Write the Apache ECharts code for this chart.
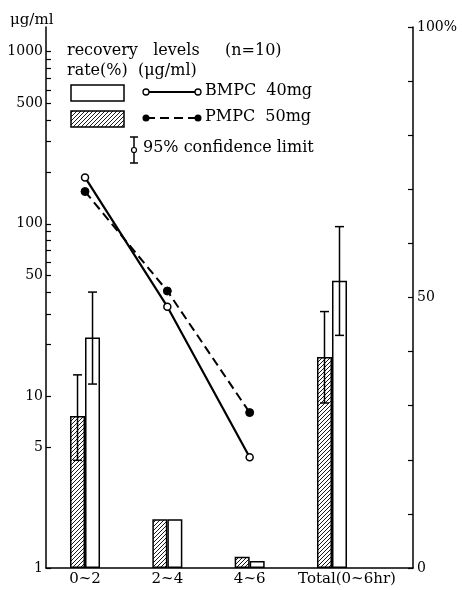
<!DOCTYPE html>
<html>
<head>
<meta charset="utf-8">
<script src="https://cdn.jsdelivr.net/npm/echarts@6/dist/echarts.min.js"></script>
<style>
html,body{margin:0;padding:0;background:#fff;}
#chart{width:462px;height:590px;}
</style>
</head>
<body>
<div id="chart"></div>
<script>
// ---- data ----
const categories = ['0~2', '2~4', '4~6', 'Total(0~6hr)'];
// recovery rate (%), right axis
const pmpcRate = [28.1, 9.0, 2.1, 39.0];
const pmpcRateLow = [19.9, null, null, 30.5];
const pmpcRateHigh = [35.7, null, null, 47.4];
const bmpcRate = [42.6, 9.0, 1.3, 53.1];
const bmpcRateLow = [34.0, null, null, 43.0];
const bmpcRateHigh = [51.0, null, null, 63.1];
// urinary levels (μg/ml), left log axis
const bmpcLevel = [186, 33, 4.4];
const pmpcLevel = [154, 40.7, 8.0];
// tick labels
const leftLabelValues = [1, 5, 10, 50, 100, 500, 1000];
const leftTickValues = [1, 5, 10, 20, 30, 40, 50, 60, 70, 80, 90, 100, 200, 300, 400, 500, 600, 700, 800, 900, 1000];
const rightLabelValues = [0, 50, 100];

// ---- hatch pattern ----
function makeHatch() {
  const c = document.createElement('canvas');
  c.width = 4; c.height = 4;
  const ctx = c.getContext('2d');
  ctx.fillStyle = '#fff';
  ctx.fillRect(0, 0, 4, 4);
  ctx.strokeStyle = '#000';
  ctx.lineWidth = 0.9;
  ctx.beginPath();
  ctx.moveTo(0, 4); ctx.lineTo(4, 0);
  ctx.moveTo(-1, 1); ctx.lineTo(1, -1);
  ctx.moveTo(3, 5); ctx.lineTo(5, 3);
  ctx.stroke();
  return c;
}
const hatch = { image: makeHatch(), repeat: 'repeat' };

const FONT = 'DejaVu Serif';
const pairs = (arr) => arr.map((v, i) => [i, v]);
const errRows = (lo, hi) => lo.map((v, i) => [i, v, hi[i]]).filter(r => r[1] != null);

function errorRenderer(offset) {
  return function (params, api) {
    const lo = api.coord([api.value(0), api.value(1)]);
    const hi = api.coord([api.value(0), api.value(2)]);
    const cx = lo[0] + offset;
    const st = { stroke: '#000', lineWidth: 1.5 };
    return {
      type: 'group',
      children: [
        { type: 'line', shape: { x1: cx, y1: lo[1], x2: cx, y2: hi[1] }, style: st },
        { type: 'line', shape: { x1: cx - 4.5, y1: lo[1], x2: cx + 4.5, y2: lo[1] }, style: st },
        { type: 'line', shape: { x1: cx - 4.5, y1: hi[1], x2: cx + 4.5, y2: hi[1] }, style: st }
      ]
    };
  };
}

const chart = echarts.init(document.getElementById('chart'), null, { renderer: 'canvas' });

const option = {
  backgroundColor: '#fff',
  animation: false,
  textStyle: { fontFamily: FONT, color: '#000' },
  grid: { left: 46, right: 49, top: 27, bottom: 22, containLabel: false },
  xAxis: {
    type: 'value',
    min: -0.474,
    max: 3.984,
    axisLine: { show: true, onZero: false, lineStyle: { color: '#000', width: 1.5 } },
    axisTick: { show: false },
    splitLine: { show: false },
    axisLabel: {
      customValues: [0, 1, 2, 3],
      margin: 4,
      fontFamily: FONT,
      fontSize: 15,
      color: '#000',
      formatter: function (v) {
        const c = categories[Math.round(v)];
        if (Math.round(v) === 3) return '{t|' + c + '}';
        return c;
      },
      rich: { t: { fontFamily: FONT, fontSize: 15, color: '#000', padding: [0, 0, 0, 30] } }
    }
  },
  yAxis: [
    {
      type: 'log',
      logBase: 10,
      min: 1,
      max: 1392,
      position: 'left',
      axisLine: { show: true, onZero: false, lineStyle: { color: '#000', width: 1.5 } },
      axisTick: { show: true, inside: true, length: 5, customValues: leftTickValues, lineStyle: { color: '#000', width: 1.2 } },
      splitLine: { show: false },
      minorTick: { show: false },
      axisLabel: {
        customValues: leftLabelValues,
        margin: 3,
        fontFamily: FONT,
        fontSize: 14,
        color: '#000',
        formatter: function (v) { return String(Math.round(v)); }
      }
    },
    {
      type: 'value',
      min: 0,
      max: 100,
      interval: 10,
      position: 'right',
      axisLine: { show: true, onZero: false, lineStyle: { color: '#000', width: 1.5 } },
      axisTick: { show: true, inside: true, length: 5, lineStyle: { color: '#000', width: 1.2 } },
      splitLine: { show: false },
      axisLabel: {
        customValues: rightLabelValues,
        margin: 4,
        fontFamily: FONT,
        fontSize: 14,
        color: '#000',
        formatter: function (v) { return v === 100 ? '100%' : String(v); }
      }
    }
  ],
  series: [
    {
      name: 'PMPC rate',
      type: 'bar',
      yAxisIndex: 1,
      data: pairs(pmpcRate),
      barWidth: 15,
      barGap: '0%',
      itemStyle: { color: hatch, borderColor: '#000', borderWidth: 1.5 },
      z: 2
    },
    {
      name: 'BMPC rate',
      type: 'bar',
      yAxisIndex: 1,
      data: pairs(bmpcRate),
      barWidth: 15,
      barGap: '0%',
      itemStyle: { color: '#fff', borderColor: '#000', borderWidth: 1.5 },
      z: 2
    },
    {
      name: 'PMPC CI',
      type: 'custom',
      yAxisIndex: 1,
      data: errRows(pmpcRateLow, pmpcRateHigh),
      renderItem: errorRenderer(-7.5),
      z: 3
    },
    {
      name: 'BMPC CI',
      type: 'custom',
      yAxisIndex: 1,
      data: errRows(bmpcRateLow, bmpcRateHigh),
      renderItem: errorRenderer(7.5),
      z: 3
    },
    {
      name: 'BMPC 40mg',
      type: 'line',
      yAxisIndex: 0,
      data: pairs(bmpcLevel),
      symbol: 'circle',
      symbolSize: 7,
      lineStyle: { color: '#000', width: 2.2, type: 'solid' },
      itemStyle: { color: '#fff', borderColor: '#000', borderWidth: 1.5 },
      z: 4
    },
    {
      name: 'PMPC 50mg',
      type: 'line',
      yAxisIndex: 0,
      data: pairs(pmpcLevel),
      symbol: 'circle',
      symbolSize: 8,
      lineStyle: { color: '#000', width: 2, type: [9, 5] },
      itemStyle: { color: '#000', borderColor: '#000', borderWidth: 1 },
      z: 4
    }
  ],
  graphic: [
    { type: 'text', left: 10, top: 13, style: { text: 'μg/ml', font: '15px "' + FONT + '"', fill: '#000' } },
    { type: 'text', left: 67, top: 43, style: { text: 'recovery   levels', font: '16px "' + FONT + '"', fill: '#000' } },
    { type: 'text', left: 225, top: 43, style: { text: '(n=10)', font: '16px "' + FONT + '"', fill: '#000' } },
    { type: 'text', left: 67, top: 63, style: { text: 'rate(%)  (μg/ml)', font: '16px "' + FONT + '"', fill: '#000' } },
    { type: 'rect', shape: { x: 71, y: 85, width: 53, height: 16 }, style: { fill: '#fff', stroke: '#000', lineWidth: 1.5 } },
    { type: 'rect', shape: { x: 71, y: 111, width: 53, height: 16 }, style: { fill: hatch, stroke: '#000', lineWidth: 1.5 } },
    { type: 'line', shape: { x1: 146, y1: 92, x2: 198, y2: 92 }, style: { stroke: '#000', lineWidth: 2.2 } },
    { type: 'circle', shape: { cx: 146, cy: 92, r: 3 }, style: { fill: '#fff', stroke: '#000', lineWidth: 1.3 } },
    { type: 'circle', shape: { cx: 198, cy: 92, r: 3 }, style: { fill: '#fff', stroke: '#000', lineWidth: 1.3 } },
    { type: 'text', left: 205, top: 83, style: { text: 'BMPC  40mg', font: '16px "' + FONT + '"', fill: '#000' } },
    { type: 'line', shape: { x1: 146, y1: 118, x2: 198, y2: 118 }, style: { stroke: '#000', lineWidth: 2, lineDash: [9, 5] } },
    { type: 'circle', shape: { cx: 146, cy: 118, r: 3.5 }, style: { fill: '#000' } },
    { type: 'circle', shape: { cx: 198, cy: 118, r: 3.5 }, style: { fill: '#000' } },
    { type: 'text', left: 205, top: 109, style: { text: 'PMPC  50mg', font: '16px "' + FONT + '"', fill: '#000' } },
    { type: 'line', shape: { x1: 134, y1: 137, x2: 134, y2: 163 }, style: { stroke: '#000', lineWidth: 1.5 } },
    { type: 'line', shape: { x1: 130, y1: 137, x2: 138, y2: 137 }, style: { stroke: '#000', lineWidth: 1.5 } },
    { type: 'line', shape: { x1: 130, y1: 163, x2: 138, y2: 163 }, style: { stroke: '#000', lineWidth: 1.5 } },
    { type: 'circle', shape: { cx: 134, cy: 150, r: 2.5 }, style: { fill: '#fff', stroke: '#000', lineWidth: 1.2 } },
    { type: 'text', left: 143, top: 140, style: { text: '95% confidence limit', font: '16px "' + FONT + '"', fill: '#000' } }
  ]
};

chart.setOption(option);
</script>
</body>
</html>
